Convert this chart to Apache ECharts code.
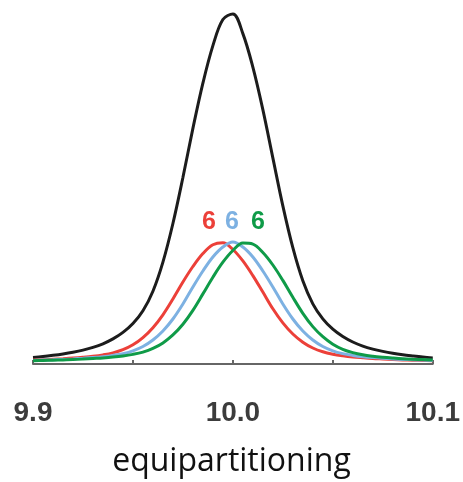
<!DOCTYPE html>
<html>
<head>
<meta charset="utf-8">
<script src="https://cdn.jsdelivr.net/npm/echarts@6/dist/echarts.min.js"></script>
<style>
  html, body { margin: 0; padding: 0; background: #fff; }
  #chart { width: 463px; height: 482px; }
</style>
</head>
<body>
<div id="chart"></div>
<script>
// x positions, step 0.005 from 9.9 to 10.1
const xs = [];
for (let k = 0; k <= 40; k++) xs.push(+(9.9 + k * 0.005).toFixed(3));

// intensities (arbitrary units)
const blackLine = [6.6, 7.5, 8.7, 10.1, 11.8, 13.9, 16.6, 20.2, 25.1, 31.6, 40.5, 53.3, 72.8, 101.9, 140.5,
  186.5, 235.6, 280.9, 318.4, 344.5, 350.1, 330.4, 296.9, 254.4, 206.1, 158.1, 116.3, 83.2, 60.1, 45.1,
  34.8, 27.5, 22.0, 17.9, 14.9, 12.6, 10.7, 9.2, 8.0, 6.9, 6.0];
const redLine = [4.0, 4.3, 4.8, 5.3, 5.9, 6.7, 7.7, 9.1, 11.1, 14.3, 19.2, 26.4, 36.3, 49.2, 65.0,
  82.0, 97.5, 110.5, 119.3, 121.3, 114.5, 103.1, 88.4, 71.9, 55.2, 41.1, 30.0, 21.8, 16.0, 12.2,
  9.8, 8.2, 7.0, 6.2, 5.5, 5.0, 4.5, 4.1, 3.8, 3.5, 3.3];
const blueLine = [3.6, 3.9, 4.2, 4.6, 5.1, 5.7, 6.4, 7.3, 8.6, 10.4, 13.2, 17.5, 24, 33, 45,
  60, 77, 93, 107, 117, 122, 117, 107, 93, 77, 60, 45, 33, 24, 17.5,
  13.2, 10.4, 8.6, 7.3, 6.4, 5.7, 5.1, 4.6, 4.2, 3.9, 3.6];
const greenLine = [3.3, 3.5, 3.8, 4.1, 4.4, 4.9, 5.5, 6.1, 6.9, 8.0, 9.6, 11.9, 15.6, 21.1, 29.1,
  39.8, 53.7, 70.1, 86.8, 101.8, 113.5, 120.9, 119.9, 111.5, 99.0, 83.6, 66.7, 50.7, 37.4, 27.3,
  19.8, 14.7, 11.4, 9.2, 7.8, 6.8, 6.0, 5.3, 4.8, 4.4, 4.0];

// "6" labels above the small peaks
const peakLabels = ['6', '6', '6'];
const peakLabelX = [9.988, 9.9995, 10.0125];
const peakLabelY = 142;

const tickLabels = { '9.9': '9.9', '10': '10.0', '10.1': '10.1' };

const colors = { black: '#1c1c1c', red: '#ec4039', blue: '#7db1e2', green: '#0f9b48' };

const pairs = ys => xs.map((x, i) => [x, ys[i]]);

const lineSeries = (name, ys, color, labelIdx) => {
  const s = {
    name: name,
    type: 'line',
    data: pairs(ys),
    smooth: 0.35,
    symbol: 'none',
    lineStyle: { color: color, width: 3 },
    z: 2,
  };
  if (labelIdx != null) {
    s.markPoint = {
      symbol: 'rect',
      symbolSize: 1,
      silent: true,
      itemStyle: { color: 'rgba(0,0,0,0)' },
      label: {
        show: true,
        position: 'inside',
        formatter: peakLabels[labelIdx],
        color: color,
        fontFamily: 'Liberation Sans',
        fontWeight: 'bold',
        fontSize: 25,
      },
      data: [{ coord: [peakLabelX[labelIdx], peakLabelY] }],
    };
  }
  return s;
};

const chart = echarts.init(document.getElementById('chart'), null, { renderer: 'canvas' });
chart.setOption({
  animation: false,
  title: {
    text: 'equipartitioning',
    left: 'center',
    top: 441,
    textStyle: { fontFamily: 'Open Sans', fontWeight: 'normal', fontSize: 32, color: '#111' },
  },
  grid: { left: 33, right: 30, top: 4, bottom: 118 },
  xAxis: {
    type: 'value',
    min: 9.9,
    max: 10.1,
    interval: 0.05,
    offset: 26,
    splitLine: { show: false },
    axisLine: { show: true, lineStyle: { color: '#666', width: 2 } },
    axisTick: { show: true, inside: true, length: 4, lineStyle: { color: '#666', width: 2 } },
    axisLabel: {
      margin: 9,
      color: '#3c3c3c',
      fontFamily: 'Liberation Sans',
      fontWeight: 'bold',
      fontSize: 28,
      showMinLabel: true,
      showMaxLabel: true,
      formatter: v => tickLabels[String(+v.toFixed(2))] || '',
    },
  },
  yAxis: {
    type: 'value',
    min: 0,
    max: 360,
    show: false,
  },
  series: [
    lineSeries('black', blackLine, colors.black),
    lineSeries('red', redLine, colors.red, 0),
    lineSeries('blue', blueLine, colors.blue, 1),
    lineSeries('green', greenLine, colors.green, 2),
  ],
});
</script>
</body>
</html>
